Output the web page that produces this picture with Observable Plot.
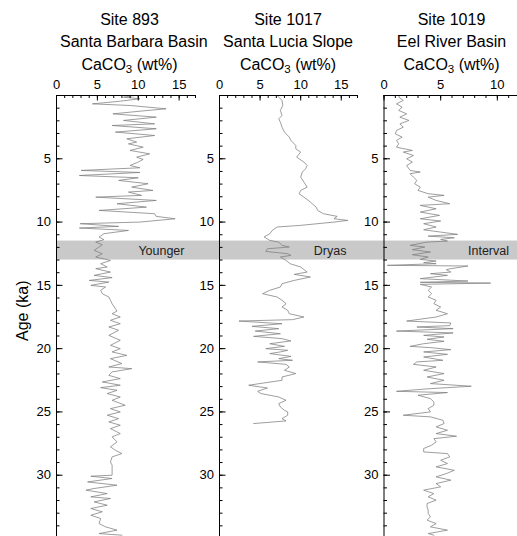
<!DOCTYPE html>
<html>
<head>
<meta charset="utf-8">
<script src="https://cdn.jsdelivr.net/npm/d3@7"></script>
<script src="https://cdn.jsdelivr.net/npm/@observablehq/plot@0.6"></script>
<style>
  html, body { margin: 0; padding: 0; background: #fff; overflow: hidden; }
  body { width: 517px; height: 536px; position: relative; font-family: "Liberation Sans", Arial, Helvetica, sans-serif; color: #000; }
  .panel { position: absolute; top: 0; height: 540px; }
  .head { position: absolute; top: 0; height: 74px; font-size: 16px; line-height: 18px; white-space: nowrap; }
  .head > div { position: absolute; left: 0; right: 0; text-align: center; }
  .head .l1 { top: 11px; }
  .head .l2 { top: 32.5px; }
  .head .l3 { top: 56px; }
  .head .sub { font-size: 11.5px; position: relative; top: 3px; }
  .plot { position: absolute; top: 74px; left: 0; }
</style>
</head>
<body>
<div id="chart"></div>
<script>
// Core sites and their headings
const siteNames = ["Site 893", "Site 1017", "Site 1019"];
const basins = ["Santa Barbara Basin", "Santa Lucia Slope", "Eel River Basin"];
const bandWords = ["Younger", "Dryas", "Interval"];

// Younger Dryas interval (ka)
const youngerDryas = [11.5, 13.0];

// Axis ticks
const ageMajor = [5, 10, 15, 20, 25, 30];
const ageMinor = d3.range(1, 35);
const caco3Major = [[0, 5, 10, 15], [0, 5, 10, 15], [0, 5, 10]];
const caco3Minor = [d3.range(0, 18), d3.range(0, 18), d3.range(0, 13)];

// Site 893 — Santa Barbara Basin
const age893 = [0.00,0.13,0.26,0.45,0.66,0.79,1.05,1.24,1.45,1.71,1.97,2.24,2.37,2.63,2.89,3.16,3.42,3.68,3.82,4.08,4.34,4.61,4.87,5.05,5.26,5.53,5.71,5.92,6.08,6.32,6.50,6.71,6.97,7.24,7.50,7.63,7.89,8.03,8.29,8.55,8.82,9.08,9.34,9.55,9.74,10.00,10.13,10.34,10.47,10.66,10.92,11.18,11.39,11.58,11.79,11.97,12.24,12.50,12.76,13.03,13.29,13.55,13.68,13.95,14.21,14.39,14.61,14.74,15.00,15.13,15.39,15.66,15.92,16.18,16.45,16.84,17.03,17.24,17.50,17.76,18.03,18.29,18.55,18.95,19.34,19.74,20.00,20.26,20.53,20.79,21.18,21.45,21.58,21.84,22.11,22.37,22.63,22.89,23.08,23.29,23.55,23.82,24.08,24.47,24.74,25.00,25.26,25.53,25.79,26.05,26.32,26.71,26.97,27.37,27.76,28.03,28.29,28.55,28.95,29.21,30.00,30.08,30.26,30.53,30.79,31.05,31.18,31.45,31.71,31.84,32.11,32.37,32.63,32.89,33.16,33.42,33.82,34.08,34.34,34.61,34.74];
const caco3_893 = [9.6,8.2,10.2,7.8,4.4,9.0,13.4,10.2,6.9,12.2,8.2,12.0,6.8,12.2,7.2,12.0,8.6,9.8,8.8,10.6,9.0,11.4,9.8,10.6,10.0,9.0,10.2,3.0,10.2,2.8,10.0,7.6,11.2,9.2,11.8,8.8,10.4,4.8,12.2,7.4,11.0,5.2,12.0,12.2,14.5,10.2,2.9,7.6,2.8,8.8,5.8,5.2,5.8,4.8,5.6,5.2,4.6,5.6,4.8,6.6,5.4,6.2,4.8,6.6,4.6,6.8,4.0,6.4,4.2,6.0,5.4,5.6,6.4,6.6,6.8,7.2,7.4,6.8,7.8,6.6,7.8,6.4,7.6,6.4,7.8,6.6,7.8,6.8,8.6,6.6,8.0,6.4,9.2,6.8,6.4,7.8,5.6,7.8,5.4,7.4,6.2,7.8,6.8,8.4,6.6,7.8,6.2,7.6,6.4,7.8,6.6,7.8,6.8,7.4,6.6,7.2,8.0,6.8,6.6,6.8,6.8,4.2,6.8,3.8,7.4,4.6,3.6,6.2,4.2,6.6,4.6,6.2,4.2,5.6,4.2,5.4,5.2,6.0,7.4,5.2,8.0];

// Site 1017 — Santa Lucia Slope
const age1017 = [0.00,0.39,0.79,1.18,1.58,1.84,2.11,2.50,2.89,3.29,3.55,3.95,4.21,4.47,4.87,5.26,5.53,5.79,6.05,6.45,6.84,7.24,7.50,7.76,8.03,8.42,8.82,9.08,9.34,9.55,9.74,9.87,10.00,10.26,10.39,10.66,10.92,11.18,11.45,11.58,11.84,11.97,12.11,12.32,12.50,12.63,12.76,13.03,13.29,13.55,13.95,14.13,14.34,14.61,14.87,15.13,15.39,15.66,15.92,16.18,16.45,16.71,16.97,17.24,17.50,17.71,17.82,18.03,18.24,18.42,18.61,18.82,19.03,19.21,19.39,19.61,19.82,20.00,20.13,20.26,20.39,20.61,20.79,20.92,21.05,21.24,21.45,21.71,21.97,22.24,22.50,22.89,23.11,23.37,23.55,23.82,24.08,24.34,24.61,24.87,25.00,25.26,25.53,25.71,25.92];
const caco3_1017 = [7.1,7.7,7.8,7.5,7.7,7.3,7.5,7.7,8.0,8.6,8.8,9.4,9.4,10.0,9.5,10.4,10.8,10.6,10.2,10.0,10.4,10.8,10.0,9.8,10.4,11.2,11.9,12.1,12.8,14.5,14.1,15.8,14.1,10.0,7.1,6.5,6.2,5.5,6.2,7.3,7.7,8.6,5.9,5.7,8.4,8.8,7.5,8.2,8.7,10.0,10.8,9.2,11.2,9.2,7.7,7.5,6.2,5.3,7.1,7.7,8.2,7.7,8.4,8.6,10.4,9.0,2.4,7.7,4.0,7.3,4.4,7.5,4.2,7.7,8.8,6.2,8.0,5.7,8.4,7.5,6.2,8.8,7.3,9.0,4.7,8.2,8.6,8.0,9.4,7.7,7.7,3.6,5.9,4.7,5.1,7.3,8.2,7.3,7.5,8.0,8.4,8.4,7.7,8.2,4.2];

// Site 1019 — Eel River Basin
const age1019 = [0.00,0.13,0.39,0.66,0.92,1.18,1.45,1.71,1.97,2.24,2.50,2.76,3.03,3.29,3.55,3.82,4.08,4.34,4.47,4.74,5.00,5.26,5.53,5.92,6.05,6.18,6.45,6.71,6.97,7.24,7.50,7.76,7.89,8.03,8.29,8.55,8.68,8.95,9.21,9.47,9.74,9.92,10.13,10.39,10.61,10.79,10.97,11.11,11.24,11.37,11.50,11.58,11.84,11.97,12.18,12.37,12.58,12.76,12.95,13.08,13.21,13.29,13.42,13.47,13.68,13.76,13.95,14.08,14.21,14.47,14.66,14.76,14.82,14.92,15.13,15.39,15.66,15.92,16.18,16.45,16.71,16.97,17.24,17.50,17.82,17.97,18.18,18.29,18.42,18.61,18.76,18.95,19.08,19.26,19.42,19.61,19.82,19.92,20.08,20.26,20.45,20.66,20.92,21.05,21.24,21.45,21.71,21.97,22.24,22.50,22.76,22.97,23.16,23.37,23.47,23.68,23.95,24.21,24.47,24.74,25.00,25.26,25.39,25.66,25.92,26.18,26.45,26.71,26.92,27.11,27.37,27.63,27.89,28.16,28.29,28.55,28.82,29.08,29.34,29.61,29.87,30.13,30.39,30.66,30.92,31.18,31.45,31.71,31.97,32.24,32.50,32.76,33.03,33.29,33.55,33.82,34.08,34.34,34.61,34.74];
const caco3_1019 = [1.4,1.3,1.7,1.1,1.6,1.3,2.0,1.4,2.2,1.4,1.7,1.1,1.0,1.6,1.1,1.3,1.1,2.5,1.7,2.6,2.0,2.5,2.0,2.3,3.2,2.3,2.6,2.9,2.7,3.2,3.0,3.9,5.3,3.9,4.6,5.8,3.2,4.6,3.2,4.9,3.2,5.0,3.5,4.6,3.5,5.0,6.5,3.9,6.2,5.0,5.6,3.8,2.3,3.6,2.5,4.1,2.5,3.9,3.2,4.6,3.5,4.6,0.3,7.4,5.9,5.5,5.9,4.1,5.6,3.2,7.4,3.2,9.4,3.2,4.2,3.9,4.2,3.9,4.6,4.4,5.0,4.6,5.6,4.6,2.0,5.9,5.8,2.9,6.1,1.1,6.1,3.5,5.3,3.8,5.3,3.5,2.3,4.1,5.9,3.5,5.6,3.5,5.2,2.9,2.6,4.6,3.5,5.3,3.8,5.3,4.1,7.7,4.1,1.1,5.6,3.0,4.1,4.4,4.4,3.9,4.1,1.7,4.1,5.2,5.3,4.6,5.6,4.6,6.4,4.4,4.6,4.2,3.5,3.5,5.6,5.8,5.0,5.6,4.6,6.2,5.5,4.6,5.9,4.6,5.0,3.5,4.4,3.9,4.6,3.8,3.8,3.9,3.9,4.1,3.8,4.6,4.1,5.6,3.9,4.4];

const records = [
  {ages: age893, values: caco3_893},
  {ages: age1017, values: caco3_1017},
  {ages: age1019, values: caco3_1019}
];

// Column geometry for the three side-by-side panels
const plotHeight = 464, marginTop = 21, marginBottom = 0;
const layout = [
  {left: 0,   width: 196, marginLeft: 56,   marginRight: 1,   xDomain: [0, 17]},
  {left: 196, width: 162, marginLeft: 23,   marginRight: 1,   xDomain: [0, 17]},
  {left: 358, width: 163, marginLeft: 25.5, marginRight: 1.5, xDomain: [0, 12]}
];

const font = "'Liberation Sans', Arial, Helvetica, sans-serif";
const chart = document.getElementById("chart");

records.forEach((rec, i) => {
  const L = layout[i];
  const frameW = L.width - L.marginLeft - L.marginRight;
  const frameH = plotHeight - marginTop - marginBottom;
  const series = rec.ages.map((a, j) => ({age: a, v: rec.values[j]}));
  const band = [{start: youngerDryas[0], end: youngerDryas[1]}];

  const panel = document.createElement("div");
  panel.className = "panel";
  panel.style.left = L.left + "px";
  panel.style.width = L.width + "px";

  const head = document.createElement("div");
  head.className = "head";
  head.style.left = L.marginLeft + (i === 0 ? 4 : 0) + "px";
  head.style.width = frameW + "px";
  head.innerHTML = `<div class="l1">${siteNames[i]}</div><div class="l2">${basins[i]}</div><div class="l3">CaCO<span class="sub">3</span> (wt%)</div>`;
  panel.appendChild(head);

  const marks = [
    // Younger Dryas shading, carried across the gap to the previous panel
    Plot.rect(band, {
      y1: "start", y2: "end", fill: "#c9c9c9",
      insetLeft: i === 0 ? 0 : -L.marginLeft, insetRight: -L.marginRight
    }),
    Plot.text(band, {
      y: d => (d.start + d.end) / 2, text: () => bandWords[i],
      frameAnchor: "right", textAnchor: "end", dx: -11, fontSize: 12.5, fill: "#222"
    }),
    Plot.line(series, {x: "v", y: "age", stroke: "#7d7d7d", strokeWidth: 0.75}),
    // axis lines
    Plot.ruleX([0], {stroke: "#000", strokeWidth: 1}),
    Plot.ruleY([0], {stroke: "#000", strokeWidth: 1}),
    // inward ticks hanging from the top (CaCO3) axis
    Plot.ruleX(caco3Minor[i], {x: d => d, insetBottom: frameH - 3, stroke: "#000", strokeWidth: 1}),
    Plot.ruleX(caco3Major[i], {x: d => d, insetBottom: frameH - 5.5, stroke: "#000", strokeWidth: 1}),
    Plot.text(caco3Major[i], {x: d => d, text: d => String(d), frameAnchor: "top", lineAnchor: "bottom", dy: -7, fontSize: 13, fill: "#000"}),
    // inward ticks on the left (age) axis
    Plot.ruleY(ageMinor, {y: d => d, insetRight: frameW - 3.5, stroke: "#000", strokeWidth: 1}),
    Plot.ruleY(ageMajor, {y: d => d, insetRight: frameW - 6.5, stroke: "#000", strokeWidth: 1}),
    Plot.text(ageMajor, {y: d => d, text: d => String(d), frameAnchor: "left", textAnchor: "end", dx: -5.5, fontSize: 13, fill: "#000"})
  ];
  if (i === 0) {
    marks.push(Plot.text(["Age (ka)"], {
      frameAnchor: "left", rotate: -90, dx: -34, dy: 24, fontSize: 16, fill: "#000"
    }));
  }

  const svg = Plot.plot({
    width: L.width,
    height: plotHeight,
    marginTop,
    marginBottom,
    marginLeft: L.marginLeft,
    marginRight: L.marginRight,
    style: {fontFamily: font, fontSize: "13px", color: "#000", background: "transparent"},
    x: {domain: L.xDomain, axis: null},
    y: {domain: [0, 35], reverse: true, axis: null},
    marks
  });
  svg.classList.add("plot");
  panel.appendChild(svg);
  chart.appendChild(panel);
});
</script>
</body>
</html>
